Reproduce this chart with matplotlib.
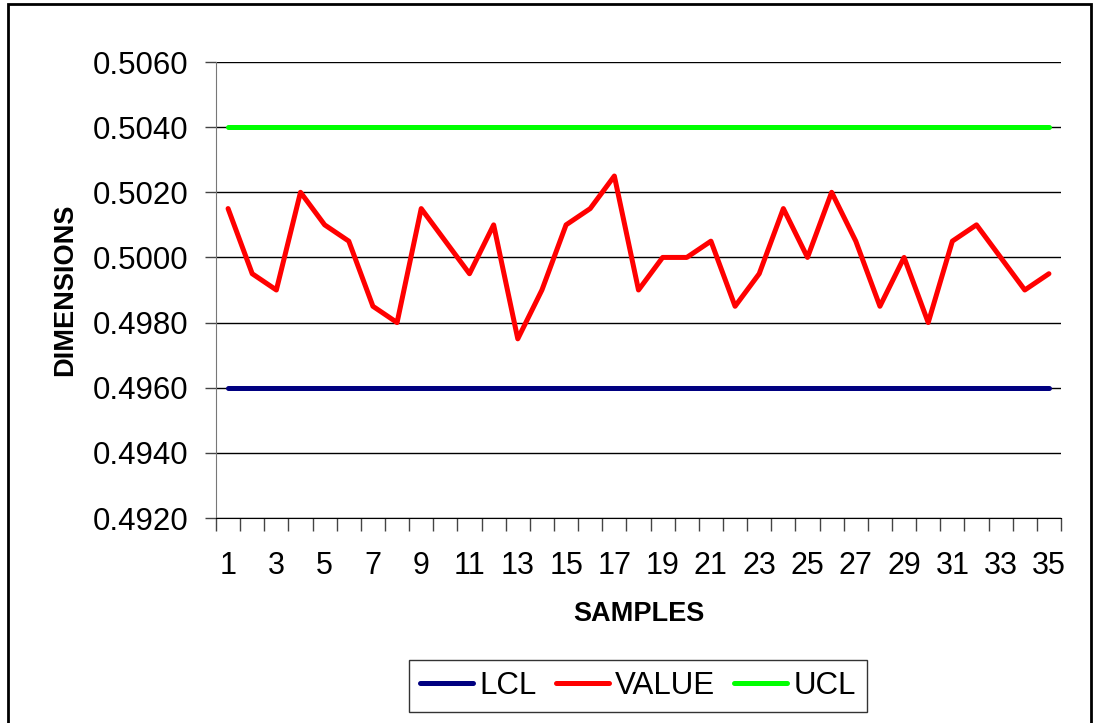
import matplotlib
matplotlib.use("Agg")
import matplotlib.pyplot as plt
from matplotlib.patches import Rectangle

samples = list(range(1, 36))
values = [0.5015, 0.4995, 0.4990, 0.5020, 0.5010, 0.5005, 0.4985, 0.4980, 0.5015, 0.5005,
          0.4995, 0.5010, 0.4975, 0.4990, 0.5010, 0.5015, 0.5025, 0.4990, 0.5000, 0.5000,
          0.5005, 0.4985, 0.4995, 0.5015, 0.5000, 0.5020, 0.5005, 0.4985, 0.5000, 0.4980,
          0.5005, 0.5010, 0.5000, 0.4990, 0.4995]
lcl = [0.4960] * len(samples)
ucl = [0.5040] * len(samples)
y_ticks = [0.4920, 0.4940, 0.4960, 0.4980, 0.5000, 0.5020, 0.5040, 0.5060]

plt.rcParams['font.family'] = ['Liberation Sans', 'DejaVu Sans']

fig = plt.figure(figsize=(10.99, 7.23), dpi=100)
ax = fig.add_axes([216 / 1099, 1 - 518 / 723, 845 / 1099, 456 / 723])

ax.plot(samples, lcl, color='#000080', lw=3.6, label='LCL', solid_capstyle='round', zorder=3)
ax.plot(samples, values, color='#FF0000', lw=3.6, label='VALUE', solid_capstyle='round',
        solid_joinstyle='round', zorder=3)
ax.plot(samples, ucl, color='#00FF00', lw=3.6, label='UCL', solid_capstyle='round', zorder=3)

ax.set_xlim(0.5, 35.5)
ax.set_ylim(0.4920, 0.5060)
ax.set_yticks(y_ticks)
ax.set_yticklabels([f'{v:.4f}' for v in y_ticks])
ax.yaxis.grid(True, color='black', lw=1)
ax.set_axisbelow(True)

ax.set_xticks(samples[::2])
ax.set_xticklabels([str(s) for s in samples[::2]])
ax.set_xticks([s - 0.5 for s in samples] + [35.5], minor=True)
ax.tick_params(axis='x', which='major', length=0, pad=24, labelsize=22)
ax.tick_params(axis='x', which='minor', length=9, width=1, color='#444444', direction='out')
ax.tick_params(axis='y', length=8, width=1, color='#444444', pad=12, labelsize=22.5)

for side in ['top', 'right']:
    ax.spines[side].set_visible(False)
ax.spines['left'].set_color('#777777')
ax.spines['bottom'].set_color('black')

ax.set_xlabel('SAMPLES', fontsize=19.5, fontweight='bold', labelpad=14)
ax.set_ylabel('DIMENSIONS', fontsize=19.5, fontweight='bold', labelpad=10)

leg = fig.legend(loc='center', bbox_to_anchor=(638 / 1099, 1 - 686 / 723), ncol=3,
                 fontsize=22.5, frameon=True, fancybox=False, handlelength=1.7,
                 handletextpad=0.2, columnspacing=0.6, borderpad=0.35, borderaxespad=0)
leg.get_frame().set_edgecolor('black')
leg.get_frame().set_linewidth(1)

fig.patches.append(Rectangle((8 / 1099, -0.05), 1083 / 1099, 1.05 - 4 / 723,
                             transform=fig.transFigure, fill=False,
                             edgecolor='black', lw=2))

fig.savefig('out.png', dpi=100)
